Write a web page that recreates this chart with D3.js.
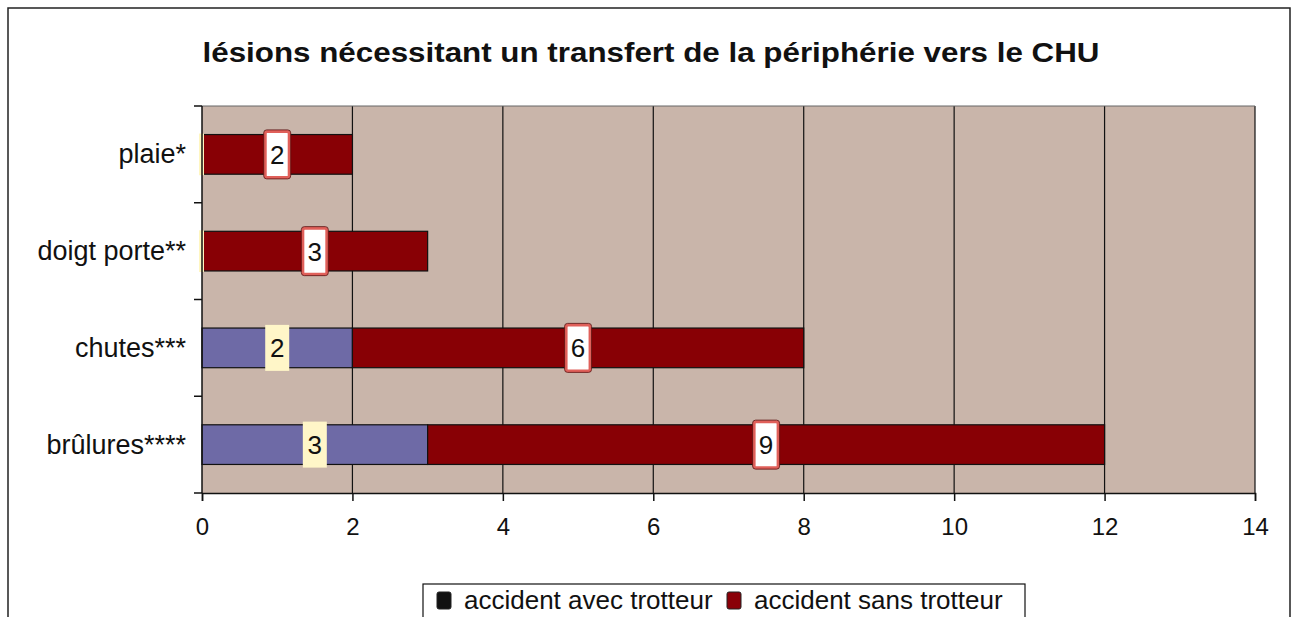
<!DOCTYPE html>
<html><head><meta charset="utf-8">
<script src="https://cdn.jsdelivr.net/npm/d3@7"></script>
<style>body{margin:0;background:#fff}svg{display:block}text{font-family:"Liberation Sans",Arial,sans-serif}</style>
</head><body><svg id="c" width="1298" height="617"></svg>
<script>
const title = "lésions nécessitant un transfert de la périphérie vers le CHU";
const categories = ["plaie*", "doigt porte**", "chutes***", "brûlures****"];
const avecTrotteur = [0, 0, 2, 3];
const sansTrotteur = [2, 3, 6, 9];
const seriesNames = ["accident avec trotteur", "accident sans trotteur"];
const xTicks = [0, 2, 4, 6, 8, 10, 12, 14];

const svg = d3.select("#c");
const L = 202, R = 1255, T = 106, B = 493;

// outer frame
svg.append("path").attr("d", `M8,617 L8,8 L1290,8 L1290,617`).attr("fill","none").attr("stroke","#222").attr("stroke-width",1.5);

svg.append("text").attr("x", 651).attr("y", 62).attr("text-anchor","middle")
  .attr("font-size", 28).attr("font-weight","bold").attr("textLength", 897).attr("lengthAdjust","spacingAndGlyphs")
  .attr("fill","#111").text(title);

const x = d3.scaleLinear().domain([0,14]).range([L,R]);
const y = d3.scaleBand().domain(categories).range([T,B]).paddingInner(0.59).paddingOuter(0.295);

svg.append("rect").attr("x",L).attr("y",T).attr("width",R-L).attr("height",B-T).attr("fill","#C9B5AA");

// gridlines
svg.append("g").selectAll("line").data(xTicks.slice(1)).join("line")
  .attr("x1",d=>x(d)).attr("x2",d=>x(d)).attr("y1",T).attr("y2",B)
  .attr("stroke","#111").attr("stroke-width",1.2);
svg.append("line").attr("x1",L).attr("x2",R).attr("y1",T).attr("y2",T).attr("stroke","#666").attr("stroke-width",1);

const data = categories.map((c,i)=>({c, a: avecTrotteur[i], s: sansTrotteur[i]}));

// bars
svg.append("g").selectAll("rect").data(data.filter(d=>d.a>0)).join("rect")
  .attr("x",x(0)).attr("y",d=>y(d.c)).attr("width",d=>x(d.a)-x(0)).attr("height",y.bandwidth())
  .attr("fill","#6E6AA6").attr("stroke","#111").attr("stroke-width",1.2);
svg.append("g").selectAll("rect").data(data).join("rect")
  .attr("x",d=>x(d.a)).attr("y",d=>y(d.c)).attr("width",d=>x(d.a+d.s)-x(d.a)).attr("height",y.bandwidth())
  .attr("fill","#880005").attr("stroke","#111").attr("stroke-width",1.2);

// zero value label slivers
svg.append("g").selectAll("rect").data(data.filter(d=>d.a===0)).join("rect")
  .attr("x",x(0)-3).attr("y",d=>y(d.c)-1).attr("width",5).attr("height",y.bandwidth()+2)
  .attr("fill","#FFF6C0");

// labels avec
const la = svg.append("g").selectAll("g").data(data.filter(d=>d.a>0)).join("g")
  .attr("transform",d=>`translate(${x(d.a/2)},${y(d.c)+y.bandwidth()/2})`);
la.append("rect").attr("x",-12).attr("y",-23).attr("width",24).attr("height",46).attr("fill","#FFF6C8");
la.append("text").attr("text-anchor","middle").attr("dy","0.36em").attr("font-size",26).attr("fill","#111").text(d=>d.a);

// labels sans
const ls = svg.append("g").selectAll("g").data(data).join("g")
  .attr("transform",d=>`translate(${x(d.a+d.s/2)},${y(d.c)+y.bandwidth()/2})`);
ls.append("rect").attr("x",-12).attr("y",-23).attr("width",24).attr("height",46).attr("rx",2)
  .attr("fill","#fff").attr("stroke","#E0605A").attr("stroke-width",3);
ls.append("rect").attr("x",-13.5).attr("y",-24.5).attr("width",27).attr("height",49).attr("rx",3)
  .attr("fill","none").attr("stroke","#5a1010").attr("stroke-width",0.8);
ls.append("text").attr("text-anchor","middle").attr("dy","0.36em").attr("font-size",26).attr("fill","#111").text(d=>d.s);

// axes
const xAxis = d3.axisBottom(x).tickValues(xTicks).tickSize(8).tickPadding(17).tickFormat(d3.format("d"));
const gx = svg.append("g").attr("transform",`translate(0,${B})`).call(xAxis);
gx.select(".domain").attr("stroke","#111").attr("stroke-width",1.5);
gx.selectAll(".tick line").attr("stroke","#111").attr("stroke-width",1.5);
gx.selectAll("text").attr("font-size",24).attr("fill","#111").attr("font-family","Liberation Sans, Arial, sans-serif");

// y axis line and ticks at band boundaries
const yBounds = [T].concat(categories.map(c=>y(c)+y.bandwidth()/2+y.step()/2));
svg.append("line").attr("x1",L).attr("x2",L).attr("y1",T).attr("y2",B).attr("stroke","#111").attr("stroke-width",1.5);
svg.append("g").selectAll("line").data(yBounds).join("line")
  .attr("x1",L-8).attr("x2",L).attr("y1",d=>d).attr("y2",d=>d).attr("stroke","#111").attr("stroke-width",1.5);
svg.append("g").selectAll("text").data(categories).join("text")
  .attr("x",186).attr("y",c=>y(c)+y.bandwidth()/2).attr("dy","0.33em").attr("text-anchor","end")
  .attr("font-size",27).attr("fill","#111").text(c=>c);

// legend
const lg = svg.append("g");
lg.append("rect").attr("x",423).attr("y",584).attr("width",602).attr("height",40).attr("fill","#fff").attr("stroke","#111").attr("stroke-width",1.2);
const swatchColors = ["#111", "#8a0008"];
const legX = [437, 727];
seriesNames.forEach((n,i)=>{
  lg.append("rect").attr("x",legX[i]).attr("y",592).attr("width",14).attr("height",17).attr("rx",2).attr("fill",swatchColors[i]).attr("stroke","#222");
  lg.append("text").attr("x",legX[i]+27).attr("y",609).attr("font-size",26).attr("fill","#111").text(n);
});
</script></body></html>
